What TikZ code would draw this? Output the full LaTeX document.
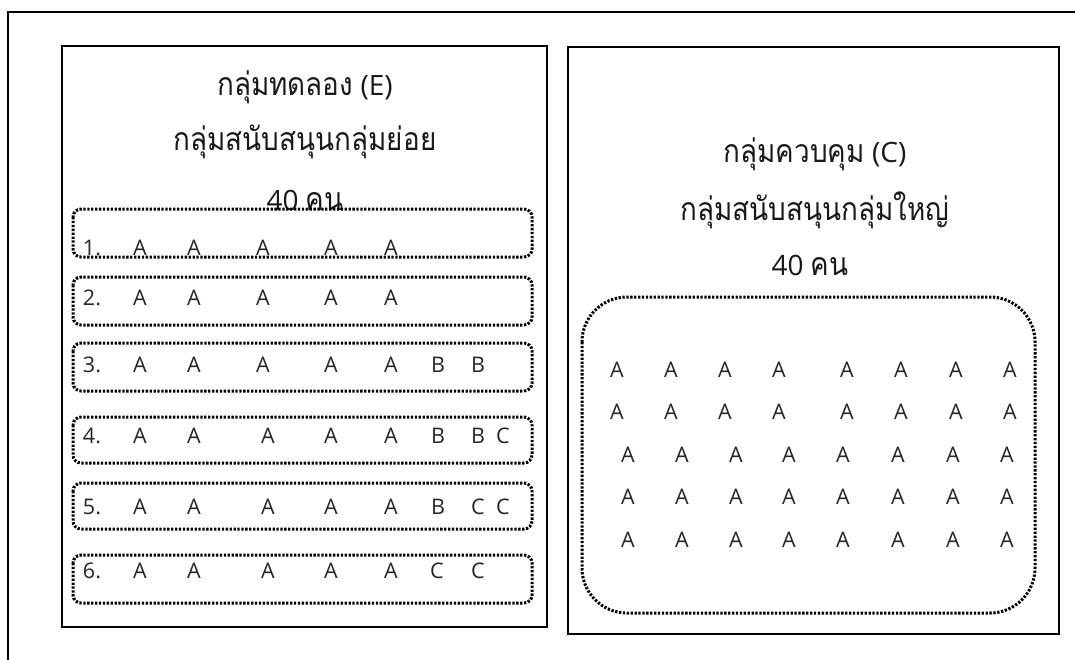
\documentclass[tikz,border=0pt]{standalone}
\usepackage{fontspec}
\newfontfamily\thaifont[Script=Thai, FakeStretch=0.87]{Loma}
\setmainfont{Open Sans}
\newcommand\thx[1]{{\thaifont\fontsize{32}{38}\selectfont #1}}
\begin{document}
\begin{tikzpicture}[x=1pt,y=-1pt,
  frame/.style={line width=2.5pt},
  panel/.style={line width=1.3pt},
  dotbox/.style={line width=3pt, dash pattern=on 2.3pt off 1.6pt},
  thai/.style={font=\fontsize{28}{32}\selectfont\color{black!90}, anchor=base, inner sep=0pt},
  lat/.style={font=\fontsize{21.5}{24}\selectfont\color{black!85}, anchor=base, inner sep=0pt}]
\useasboundingbox (0,0) rectangle (1075,659);
% outer frame
\coordinate (fTL) at (8,12);
\coordinate (fTR) at (1080,12);
\coordinate (fBL) at (8,665);
\draw[frame] (fBL) -- (fTL) -- (fTR);
% panels
\draw[panel] (62,46) rectangle (547,627);
\draw[panel] (568,47) rectangle (1059,634);
% left titles
\node[thai] (e1) at (305,95) {\thx{กลุ่มทดลอง} (E)};
\node[thai] (e2) at (305,150) {\thx{กลุ่มสนับสนุนกลุ่มย่อย}};
\node[thai] (e3) at (305,210) {40 \thx{คน}};
% right titles
\node[thai] (c1) at (815,162) {\thx{กลุ่มควบคุม} (C)};
\node[thai] (c2) at (815,220) {\thx{กลุ่มสนับสนุนกลุ่มใหญ่}};
\node[thai] (c3) at (810,275) {40 \thx{คน}};
% left dotted rows
\draw[dotbox, rounded corners=8pt] (73,209) rectangle (532,257);
\draw[dotbox, rounded corners=8pt] (73,277) rectangle (532,325);
\draw[dotbox, rounded corners=8pt] (73,343) rectangle (532,391);
\draw[dotbox, rounded corners=8pt] (73,417) rectangle (532,463);
\draw[dotbox, rounded corners=8pt] (73,483) rectangle (532,529);
\draw[dotbox, rounded corners=8pt] (73,555) rectangle (532,603);
% row 1
\node[lat] (n1) at (92,255) {1.};
\foreach \x [count=\i] in {140,194,263,331,391} \node[lat] (r1a\i) at (\x,255) {A};
% row 2
\node[lat] (n2) at (92,305) {2.};
\foreach \x [count=\i] in {140,194,263,331,391} \node[lat] (r2a\i) at (\x,305) {A};
% row 3
\node[lat] (n3) at (92,372) {3.};
\foreach \x [count=\i] in {140,194,263,331,391} \node[lat] (r3a\i) at (\x,372) {A};
\node[lat] (r3b1) at (438,372) {B};
\node[lat] (r3b2) at (478,372) {B};
% row 4
\node[lat] (n4) at (92,443) {4.};
\foreach \x [count=\i] in {140,194,268,331,391} \node[lat] (r4a\i) at (\x,443) {A};
\node[lat] (r4b1) at (438,443) {B};
\node[lat] (r4b2) at (478,443) {B};
\node[lat] (r4c1) at (503,443) {C};
% row 5
\node[lat] (n5) at (92,514) {5.};
\foreach \x [count=\i] in {140,194,268,331,391} \node[lat] (r5a\i) at (\x,514) {A};
\node[lat] (r5b1) at (438,514) {B};
\node[lat] (r5c1) at (478,514) {C};
\node[lat] (r5c2) at (503,514) {C};
% row 6
\node[lat] (n6) at (92,578) {6.};
\foreach \x [count=\i] in {140,194,268,331,391} \node[lat] (r6a\i) at (\x,578) {A};
\node[lat] (r6c1) at (437,578) {C};
\node[lat] (r6c2) at (478,578) {C};
% right dotted box
\draw[dotbox, rounded corners=45pt] (582,297) rectangle (1035,613);
% right grid
\foreach \y [count=\j] in {377,419} {
  \foreach \x [count=\i] in {617,671,725,779,847,901,956,1010}
    \node[lat] (g\j-\i) at (\x,\y) {A};
}
\foreach \y [count=\j from 3] in {462,504,547} {
  \foreach \x [count=\i] in {628,682,736,789,843,898,953,1007}
    \node[lat] (g\j-\i) at (\x,\y) {A};
}
\end{tikzpicture}
\end{document}
